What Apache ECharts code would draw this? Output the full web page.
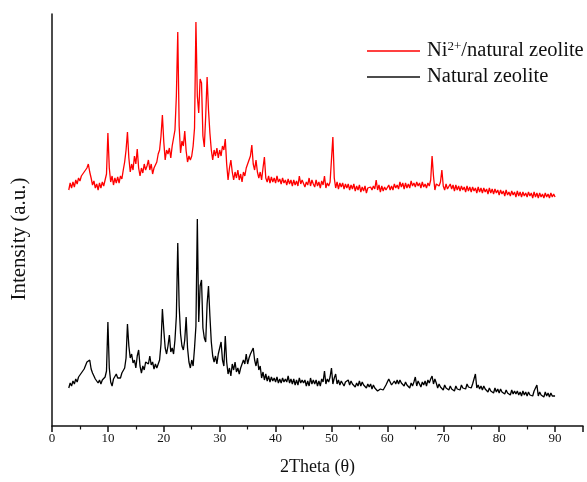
<!DOCTYPE html>
<html>
<head>
<meta charset="utf-8">
<script src="https://cdn.jsdelivr.net/npm/echarts@6/dist/echarts.min.js"></script>
<style>
  html, body { margin: 0; padding: 0; background: #fff; }
  #chart { width: 587px; height: 482px; }
</style>
</head>
<body>
<div id="chart"></div>
<script>
// XRD scans, 2θ from 3° to 90° in 0.25° steps; intensities in a.u. (stacked)
const thetaStart = 3;
const thetaStep = 0.25;
const seriesNames = ['Ni{sup|2+}/natural zeolite', 'Natural zeolite'];
const xTicks = [0, 10, 20, 30, 40, 50, 60, 70, 80, 90];

const niZeolite = [
  236,243,238,244, 239,246,242,248, 245,250,248,254, 252,258,262,254, 248,241,245,238,
  242,236,243,238, 244,240,246,252, 293,258,244,250, 241,248,243,249, 243,250,247,256,
  264,276,294,268, 254,262,256,270, 262,277,258,250, 258,253,262,256, 260,266,256,262,
  252,258,256,264, 272,276,290,311, 284,266,276,272, 278,268,280,288, 296,330,394,300,
  273,285,280,295, 275,264,270,266, 270,280,298,404, 330,313,347,343, 290,279,310,349,
  316,293,276,266, 276,270,278,268, 276,270,280,276, 287,262,246,258, 266,254,246,254,
  248,256,246,252, 244,254,250,258, 262,266,270,281, 262,256,266,254, 248,254,246,258,
  269,248,244,250, 243,249,244,248, 243,250,244,247, 242,248,243,246, 241,247,242,246,
  240,246,241,245, 240,250,242,246, 245,239,244,241, 248,240,246,242, 239,246,240,244,
  238,245,241,250, 238,243,240,244, 245,289,248,238, 244,237,243,239, 243,237,242,238,
  242,236,241,237, 242,235,240,236, 241,234,239,235, 240,233,238,236, 239,236,240,237,
  246,236,241,234, 240,235,239,236, 235,241,236,240, 236,242,238,241, 237,244,239,243,
  237,243,238,242, 238,245,240,243, 239,244,240,243, 238,244,239,242, 238,243,240,246,
  270,250,236,242, 242,240,244,256, 240,236,242,237, 236,242,237,241, 235,241,236,240,
  235,240,236,239, 234,240,235,239, 234,239,235,238, 233,239,234,238, 233,238,234,237,
  232,238,233,237, 232,237,233,236, 231,236,232,235, 230,236,231,234, 230,235,231,234,
  229,235,230,234, 229,234,230,233, 229,234,230,233, 228,234,229,233, 228,233,229,232,
  228,233,229,232, 228,233,229,232,
  229
];

const naturalZeolite = [
  38,43,40,45, 42,47,44,49, 47,53,51,57, 58,64,62,66, 57,53,50,47,
  48,43,46,42, 46,44,49,55, 104,58,44,40, 47,45,52,48, 50,48,53,55,
  58,68,102,80, 68,72,63,66, 58,70,76,60, 53,60,56,64, 66,62,70,61,
  64,57,62,58, 60,66,82,117, 96,78,72,80, 91,74,78,72, 86,110,183,120,
  92,80,76,86, 109,78,64,58, 66,60,78,100, 207,104,140,146, 98,88,84,122,
  140,110,84,70, 64,70,62,72, 74,84,66,60, 90,64,52,58, 50,62,56,64,
  54,58,52,58, 56,66,62,72, 62,68,72,70, 78,66,60,68, 56,60,48,54,
  46,52,45,50, 44,49,45,48, 44,49,43,47, 43,48,44,47, 44,50,43,47,
  42,47,41,46, 41,48,43,46, 43,46,40,45, 40,48,42,46, 42,46,40,45,
  40,47,44,55, 42,47,44,49, 58,42,48,52, 42,46,41,45, 46,40,44,42,
  46,41,45,42, 44,39,43,40, 45,40,44,41, 43,38,42,39, 42,37,41,38,
  40,35,34,37, 39,36,37,41, 44,47,46,41, 40,45,42,46, 42,46,43,45,
  40,44,41,43, 38,43,40,44, 49,40,45,42, 39,44,41,45, 40,46,43,47,
  50,42,47,43, 38,42,39,41, 36,41,38,40, 36,40,37,39, 35,40,37,39,
  36,41,38,40, 37,42,39,41, 38,42,40,52, 38,41,37,40, 36,40,37,39,
  34,38,35,37, 33,38,34,37, 33,37,34,36, 32,36,33,35, 31,36,32,35,
  32,35,31,34, 30,35,31,34, 30,34,31,33, 30,35,33,41, 30,34,31,33,
  29,34,30,33, 29,33,30,32,
  30
];

function toPoints(values) {
  return values.map(function (v, i) { return [thetaStart + i * thetaStep, v]; });
}

const serif = '"Liberation Serif", "Times New Roman", serif';
const chart = echarts.init(document.getElementById('chart'), null, { renderer: 'canvas' });

chart.setOption({
  animation: false,
  backgroundColor: '#ffffff',
  grid: { left: 52, right: 4, top: 14, bottom: 56, containLabel: false },
  legend: {
    orient: 'vertical',
    left: 362,
    top: 35,
    icon: 'rect',
    itemWidth: 53,
    itemHeight: 1.5,
    itemGap: 4,
    textStyle: {
      fontFamily: serif,
      fontSize: 20.5,
      color: '#111',
      lineHeight: 22,
      padding: [0, 0, 0, 2],
      rich: {
        sup: { fontFamily: serif, fontSize: 13, verticalAlign: 'top', lineHeight: 13, padding: [0, 0, 7, 0], color: '#111' }
      }
    },
    data: seriesNames
  },
  xAxis: {
    type: 'value',
    min: 0,
    max: 95,
    interval: 10,
    name: '2Theta (θ)',
    nameLocation: 'middle',
    nameGap: 32,
    nameTextStyle: { fontFamily: serif, fontSize: 18, color: '#111' },
    axisLine: { show: true, lineStyle: { color: '#111', width: 1.5 } },
    axisTick: { show: true, inside: false, length: 6, lineStyle: { color: '#111', width: 1.5 } },
    minorTick: { show: true, splitNumber: 2, length: 3.5, lineStyle: { color: '#111', width: 1.2 } },
    axisLabel: {
      fontFamily: serif, fontSize: 13, color: '#111', margin: 6,
      formatter: function (v) { return xTicks.indexOf(v) >= 0 ? String(v) : ''; }
    },
    splitLine: { show: false }
  },
  yAxis: {
    type: 'value',
    min: 0,
    max: 412,
    name: 'Intensity (a.u.)',
    nameLocation: 'middle',
    nameRotate: 90,
    nameGap: 22,
    nameTextStyle: { fontFamily: serif, fontSize: 21, color: '#111', padding: [0, 38, 0, 0] },
    axisLine: { show: true, lineStyle: { color: '#111', width: 1.5 } },
    axisTick: { show: false },
    axisLabel: { show: false },
    splitLine: { show: false }
  },
  series: [
    {
      name: seriesNames[0],
      type: 'line',
      data: toPoints(niZeolite),
      showSymbol: false,
      symbol: 'none',
      lineStyle: { color: '#ff0000', width: 1.3 },
      itemStyle: { color: '#ff0000' }
    },
    {
      name: seriesNames[1],
      type: 'line',
      data: toPoints(naturalZeolite),
      showSymbol: false,
      symbol: 'none',
      lineStyle: { color: '#000000', width: 1.3 },
      itemStyle: { color: '#111111' }
    }
  ]
});
</script>
</body>
</html>
